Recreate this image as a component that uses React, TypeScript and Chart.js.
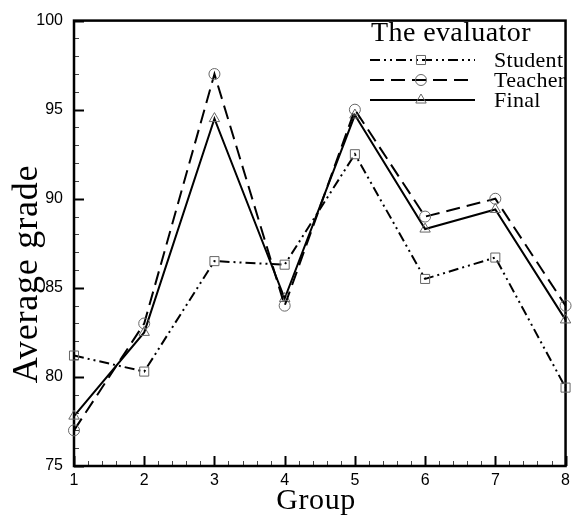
import React, { useEffect, useRef } from 'react';
import { Chart, registerables } from 'chart.js';

Chart.register(...registerables);

// ---- data ----
const groups = [1, 2, 3, 4, 5, 6, 7, 8];
const studentGrades = [81.2, 80.3, 86.5, 86.3, 92.5, 85.5, 86.7, 79.4];
const teacherGrades = [77.0, 83.0, 97.0, 84.0, 95.0, 89.0, 90.0, 84.0];
const finalGrades = [77.8, 82.5, 94.5, 84.4, 94.7, 88.3, 89.4, 83.2];
const seriesNames = ['Student', 'Teacher', 'Final'];
const legendTitle = 'The evaluator';
const xTitle = 'Group';
const yTitle = 'Average grade';
const yMin = 75;
const yMax = 100;
const xMin = 1;
const xMax = 8;

const SERIF = '"Liberation Serif", "Times New Roman", serif';
const SANS = '"Liberation Sans", Arial, sans-serif';

const seriesStyles = [
  { dash: [10, 4, 2, 4, 2, 4], pointStyle: 'rect', radius: 6.4, width: 2 },
  { dash: [14, 7], pointStyle: 'circle', radius: 5.5, width: 2 },
  { dash: [], pointStyle: 'triangle', radius: 6, width: 2 },
];
const seriesData = [studentGrades, teacherGrades, finalGrades];

function drawMarker(ctx: CanvasRenderingContext2D, style: string, x: number, y: number, r: number) {
  ctx.beginPath();
  if (style === 'rect') {
    const s = r * Math.SQRT1_2;
    ctx.rect(x - s, y - s, 2 * s, 2 * s);
  } else if (style === 'circle') {
    ctx.arc(x, y, r, 0, Math.PI * 2);
  } else {
    ctx.moveTo(x, y - r);
    ctx.lineTo(x + r * 0.866, y + r * 0.5);
    ctx.lineTo(x - r * 0.866, y + r * 0.5);
    ctx.closePath();
  }
  ctx.stroke();
}

const decorPlugin = {
  id: 'decor',
  beforeDatasetsDraw(chart: any) {
    const { ctx, chartArea } = chart;
    const { left, right, top, bottom } = chartArea;
    const xs = chart.scales.x;
    const ys = chart.scales.y;
    ctx.save();
    // y ticks (inward)
    for (let v = yMin; v <= yMax; v += 1) {
      const py = Math.round(ys.getPixelForValue(v)) + 0.5;
      const major = v % 5 === 0;
      ctx.lineWidth = major ? 2 : 1;
      ctx.strokeStyle = major ? '#000' : '#444';
      ctx.beginPath();
      ctx.moveTo(left, py);
      ctx.lineTo(left + (major ? 10 : 5), py);
      ctx.stroke();
    }
    // x ticks (inward)
    for (let i = 0; i <= (xMax - xMin) * 5; i++) {
      const v = xMin + i * 0.2;
      const px = Math.round(xs.getPixelForValue(v)) + 0.5;
      const major = i % 5 === 0;
      ctx.lineWidth = major ? 2 : 1;
      ctx.strokeStyle = major ? '#000' : '#444';
      ctx.beginPath();
      ctx.moveTo(px, bottom);
      ctx.lineTo(px, bottom - (major ? 10 : 5));
      ctx.stroke();
    }
    // frame
    ctx.strokeStyle = '#000';
    ctx.lineWidth = 2.5;
    ctx.strokeRect(left, top, right - left, bottom - top);
    ctx.restore();
  },
  afterDraw(chart: any) {
    const { ctx } = chart;
    ctx.save();
    ctx.fillStyle = '#000';
    // axis titles
    ctx.letterSpacing = '0.6px';
    ctx.font = `30px ${SERIF}`;
    ctx.textAlign = 'center';
    ctx.textBaseline = 'alphabetic';
    ctx.fillText(xTitle, 316, 509);

    ctx.save();
    ctx.translate(37, 274);
    ctx.rotate(-Math.PI / 2);
    ctx.letterSpacing = '0.8px';
    ctx.font = `36px ${SERIF}`;
    ctx.fillText(yTitle, 0, 0);
    ctx.restore();

    // legend
    ctx.letterSpacing = '0.4px';
    ctx.font = `28px ${SERIF}`;
    ctx.textAlign = 'left';
    ctx.fillText(legendTitle, 371, 41);

    ctx.letterSpacing = '0.3px';
    ctx.font = `22px ${SERIF}`;
    seriesNames.forEach((name, i) => {
      const y = 60 + i * 20;
      const st = seriesStyles[i];
      ctx.strokeStyle = '#000';
      ctx.lineWidth = st.width;
      ctx.setLineDash(st.dash);
      ctx.beginPath();
      ctx.moveTo(370, y);
      ctx.lineTo(475, y);
      ctx.stroke();
      ctx.setLineDash([]);
      ctx.strokeStyle = '#666';
      ctx.lineWidth = 1;
      drawMarker(ctx, st.pointStyle, 421, y, st.radius);
      ctx.fillText(name, 494, y + 7);
    });
    ctx.letterSpacing = '0px';
    ctx.restore();
  },
};

export default function App() {
  const canvasRef = useRef<HTMLCanvasElement | null>(null);

  useEffect(() => {
    document.body.style.margin = '0';
    const canvas = canvasRef.current;
    if (!canvas) return;
    const datasets = seriesNames.map((name, i) => ({
      label: name,
      data: groups.map((g, j) => ({ x: g, y: seriesData[i][j] })),
      borderColor: '#000',
      borderWidth: seriesStyles[i].width,
      borderDash: seriesStyles[i].dash,
      pointStyle: seriesStyles[i].pointStyle,
      pointRadius: seriesStyles[i].radius,
      pointBorderColor: '#666',
      pointBackgroundColor: 'rgba(0,0,0,0)',
      pointBorderWidth: 1,
      tension: 0,
      fill: false,
      clip: 12,
    }));
    const chart = new Chart(canvas, {
      type: 'line',
      data: { datasets } as any,
      options: {
        animation: false,
        responsive: true,
        maintainAspectRatio: false,
        layout: { padding: { top: 16, right: 7, left: 0, bottom: 0 } },
        plugins: {
          legend: { display: false },
          tooltip: { enabled: false },
        },
        scales: {
          x: {
            type: 'linear',
            min: xMin,
            max: xMax,
            grid: { display: false, drawTicks: false },
            border: { display: false },
            ticks: {
              stepSize: 1,
              autoSkip: false,
              maxRotation: 0,
              padding: 5,
              color: '#000',
              font: { family: SANS, size: 16 },
            },
            afterFit(scale: any) {
              scale.height = 49;
            },
          },
          y: {
            type: 'linear',
            min: yMin,
            max: yMax,
            grid: { display: false, drawTicks: false },
            border: { display: false },
            ticks: {
              stepSize: 5,
              padding: 11,
              color: '#000',
              font: { family: SANS, size: 16 },
            },
            afterFit(scale: any) {
              scale.width = 74;
            },
          },
        },
      } as any,
      plugins: [decorPlugin as any],
    });
    return () => chart.destroy();
  }, []);

  return (
    <div style={{ width: 575, height: 515, position: 'relative' }}>
      <canvas ref={canvasRef} />
    </div>
  );
}
